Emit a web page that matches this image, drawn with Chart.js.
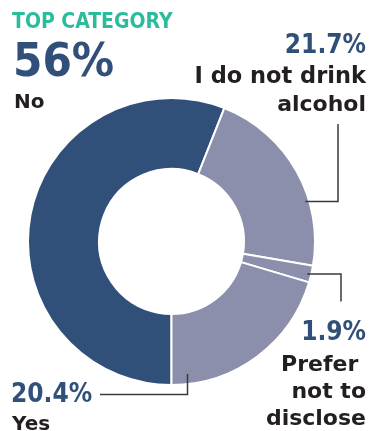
<!DOCTYPE html>
<html>
<head>
<meta charset="utf-8">
<script src="https://cdn.jsdelivr.net/npm/chart.js@4/dist/chart.umd.min.js"></script>
<style>
  html, body { margin: 0; padding: 0; background: #ffffff; }
  #wrap { position: relative; width: 370px; height: 431px; overflow: hidden; }
  #wrap canvas { position: absolute; left: 0; top: 0; }
  .t { position: absolute; white-space: pre; font-weight: bold; }
  .pct { font-family: "DejaVu Sans Condensed", "DejaVu Sans", sans-serif; color: #30507a; }
  .lbl { font-family: "DejaVu Sans", sans-serif; color: #231f20; }
</style>
</head>
<body>
<div id="wrap">
  <canvas id="c" width="370" height="431"></canvas>
</div>
<script>
// ---- data ----
const categories = ['No', 'I do not drink alcohol', 'Prefer not to disclose', 'Yes'];
const values = [56, 21.7, 1.9, 20.4];
const labelLines = [['No'], ['I do not drink', 'alcohol'], ['Prefer ', 'not to', 'disclose'], ['Yes']];
const headline = 'TOP CATEGORY';

// ---- styles ----
const sliceColors = ['#30507a', '#8b8fab', '#8b8fab', '#8b8fab'];

const leaderPlugin = {
  id: 'leaders',
  afterDatasetsDraw(chart) {
    const arcs = chart.getDatasetMeta(0).data;
    if (!arcs.length) return;
    const cx = arcs[0].x, cy = arcs[0].y, R = arcs[0].outerRadius;
    const ctx = chart.ctx;
    ctx.save();
    ctx.strokeStyle = '#3a3a3a';
    ctx.lineWidth = 1.5;
    ctx.lineCap = 'butt';
    ctx.lineJoin = 'miter';
    const edgeX = (y) => cx + Math.sqrt(R * R - (y - cy) * (y - cy));
    const edgeY = (x) => cy + Math.sqrt(R * R - (x - cx) * (x - cx));
    // 'I do not drink alcohol'
    ctx.beginPath();
    ctx.moveTo(338, 124); ctx.lineTo(338, 201.5); ctx.lineTo(edgeX(201.5) - 4, 201.5);
    ctx.stroke();
    // 'Prefer not to disclose'
    ctx.beginPath();
    ctx.moveTo(341, 301.5); ctx.lineTo(341, 274); ctx.lineTo(edgeX(274) - 4, 274);
    ctx.stroke();
    // 'Yes'
    ctx.beginPath();
    ctx.moveTo(100, 394.5); ctx.lineTo(187.5, 394.5); ctx.lineTo(187.5, edgeY(187.5) - 10);
    ctx.stroke();
    ctx.restore();
  }
};

new Chart(document.getElementById('c'), {
  type: 'doughnut',
  data: {
    labels: categories,
    datasets: [{
      data: values,
      backgroundColor: sliceColors,
      borderColor: '#ffffff',
      borderWidth: 2,
      hoverOffset: 0
    }]
  },
  options: {
    responsive: false,
    animation: false,
    rotation: 180,
    cutout: '50.5%',
    layout: { padding: { left: 27, right: 54, top: 97, bottom: 45 } },
    plugins: { legend: { display: false }, tooltip: { enabled: false } },
    events: []
  },
  plugins: [leaderPlugin]
});

// ---- text labels (real HTML text) ----
const wrap = document.getElementById('wrap');
function addText(txt, cls, size, baseline, opts) {
  const d = document.createElement('div');
  d.className = 't ' + cls;
  d.textContent = txt;
  d.style.fontSize = size + 'px';
  d.style.lineHeight = size + 'px';
  d.style.top = (baseline - 0.846 * size) + 'px';
  if (opts.left !== undefined) d.style.left = opts.left + 'px';
  if (opts.right !== undefined) { d.style.right = opts.right + 'px'; d.style.textAlign = 'right'; }
  if (opts.color) d.style.color = opts.color;
  wrap.appendChild(d);
}
const fmt = (v) => v + '%';

addText(headline, 'pct', 21, 29, { left: 12, color: '#2bbd9b' });
addText(fmt(values[0]), 'pct', 47, 76, { left: 13 });
addText(labelLines[0][0], 'lbl', 20, 108, { left: 14 });

addText(fmt(values[1]), 'pct', 26, 53, { right: 4 });
addText(labelLines[1][0], 'lbl', 22.5, 83, { right: 4 });
addText(labelLines[1][1], 'lbl', 22, 112, { right: 4 });

addText(fmt(values[2]), 'pct', 26, 340, { right: 4 });
addText(labelLines[2][0], 'lbl', 22, 372, { right: 4 });
addText(labelLines[2][1], 'lbl', 22, 399, { right: 4 });
addText(labelLines[2][2], 'lbl', 22, 426, { right: 4 });

addText(fmt(values[3]), 'pct', 26, 402, { left: 11 });
addText(labelLines[3][0], 'lbl', 20, 430, { left: 12 });
</script>
</body>
</html>
